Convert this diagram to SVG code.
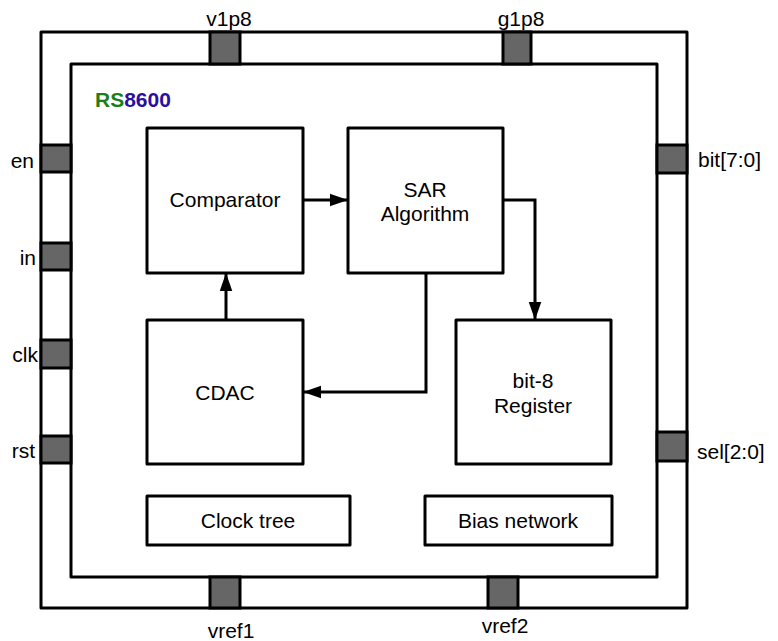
<svg xmlns="http://www.w3.org/2000/svg" width="778" height="641" viewBox="0 0 778 641">
<style>
.box{fill:#fff;stroke:#000;stroke-width:3;stroke-linejoin:round}
.pad{fill:#666;stroke:#000;stroke-width:3}
.t{font-family:"Liberation Sans",Arial,sans-serif;font-size:21px;fill:#000}
.c{text-anchor:middle}
.e{text-anchor:end}
.w{fill:none;stroke:#000;stroke-width:3}
</style>
<defs>
<marker id="ah" viewBox="0 0 10 10" refX="9.5" refY="5" markerWidth="6" markerHeight="6" orient="auto" markerUnits="strokeWidth">
<path d="M0,1.5 L10,5 L0,8.5 z" fill="#000"/>
</marker>
</defs>
<rect width="778" height="641" fill="#fff"/>
<g id="package">
<rect class="box" x="41" y="32" width="646" height="576"/>
<rect class="box" x="71" y="64" width="586" height="513"/>
</g>
<g id="title"><text x="95" y="107" font-family="Liberation Sans,Arial,sans-serif" font-size="21" font-weight="bold"><tspan fill="#1a7f1a">RS</tspan><tspan fill="#2b0f9e">8600</tspan></text></g>
<g id="pad-v1p8"><rect class="pad" x="210" y="32" width="30" height="32"/><text class="t c" x="229" y="26">v1p8</text></g>
<g id="pad-g1p8"><rect class="pad" x="503" y="32" width="28" height="32"/><text class="t c" x="521" y="26">g1p8</text></g>
<g id="pad-en"><rect class="pad" x="41" y="145" width="30" height="27"/><text class="t e" x="34" y="168">en</text></g>
<g id="pad-in"><rect class="pad" x="41" y="243" width="30" height="27"/><text class="t e" x="36" y="265">in</text></g>
<g id="pad-clk"><rect class="pad" x="41" y="340" width="30" height="28"/><text class="t e" x="38" y="362">clk</text></g>
<g id="pad-rst"><rect class="pad" x="41" y="436" width="30" height="27"/><text class="t e" x="35" y="458">rst</text></g>
<g id="pad-bit"><rect class="pad" x="657" y="145" width="30" height="28"/><text class="t" x="698" y="167">bit[7:0]</text></g>
<g id="pad-sel"><rect class="pad" x="657" y="432" width="30" height="29"/><text class="t" x="697" y="459">sel[2:0]</text></g>
<g id="pad-vref1"><rect class="pad" x="210" y="577" width="30" height="31"/><text class="t c" x="231" y="638">vref1</text></g>
<g id="pad-vref2"><rect class="pad" x="488" y="577" width="30" height="31"/><text class="t c" x="505" y="633">vref2</text></g>
<g id="comparator"><rect class="box" x="147" y="128" width="156" height="145"/><text class="t c" x="225" y="207">Comparator</text></g>
<g id="sar"><rect class="box" x="348" y="128" width="155" height="145"/><text class="t c" x="425" y="197">SAR</text><text class="t c" x="425" y="221">Algorithm</text></g>
<g id="cdac"><rect class="box" x="147" y="320" width="156" height="144"/><text class="t c" x="225" y="400">CDAC</text></g>
<g id="register"><rect class="box" x="456" y="320" width="155" height="144"/><text class="t c" x="533" y="388">bit-8</text><text class="t c" x="533" y="413">Register</text></g>
<g id="clock-tree"><rect class="box" x="147" y="496" width="203" height="49"/><text class="t c" x="248" y="528">Clock tree</text></g>
<g id="bias"><rect class="box" x="425" y="496" width="187" height="49"/><text class="t c" x="518" y="528">Bias network</text></g>
<g id="connectors">
<path class="w" d="M303,200 L347,200" marker-end="url(#ah)"/>
<path class="w" d="M226,320 L226,274" marker-end="url(#ah)"/>
<path class="w" d="M426,273 L426,392 L304,392" marker-end="url(#ah)"/>
<path class="w" d="M503,200 L535,200 L535,319" marker-end="url(#ah)"/>
</g>
</svg>
